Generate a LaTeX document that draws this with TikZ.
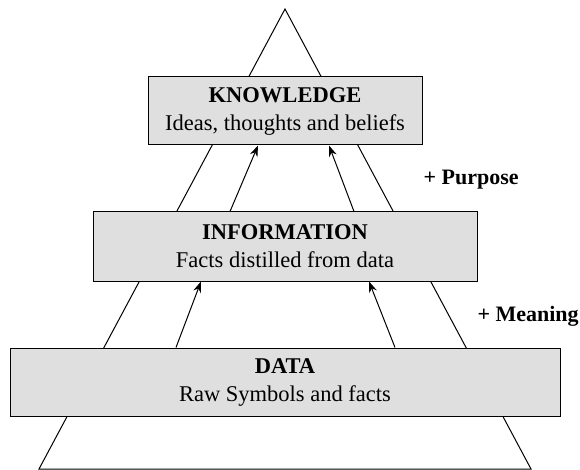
\documentclass[tikz,border=0pt]{standalone}
\usepackage{fontspec}
\setmainfont{Liberation Serif}
\usepackage{tikz}
\usetikzlibrary{arrows.meta, positioning}

\begin{document}
\begin{tikzpicture}[
            x=1pt, y=-1pt,
            level/.style={draw, fill=gray!25, line width=1pt, align=center, inner sep=0pt,
                          font=\fontsize{22.5}{28}\selectfont},
            gain/.style={font=\fontsize{22}{24}\selectfont\bfseries, anchor=west},
            arrow/.style={-{Stealth[length=11pt, width=8pt]}, line width=1pt}
        ]
        \useasboundingbox (0,0) rectangle (580,470);

        % --- pyramid outline ---
        \coordinate (apex) at (285, 9);
        \coordinate (baseL) at (39, 469);
        \coordinate (baseR) at (531, 469);
        \draw[line width=1pt] (baseL) -- (apex) -- (baseR) -- cycle;

        % --- levels ---
        \node[level, minimum width=274pt, minimum height=68pt] (know) at (285, 111)
            {\textbf{KNOWLEDGE}\\Ideas, thoughts and beliefs};
        \node[level, minimum width=384pt, minimum height=69pt] (info) at (285, 246.5)
            {\textbf{INFORMATION}\\Facts distilled from data};
        \node[level, minimum width=550pt, minimum height=68pt] (data) at (285, 382)
            {\textbf{DATA}\\Raw Symbols and facts};

        % --- transitions ---
        \draw[arrow] ([xshift=-109pt]data.north) -- ([xshift=-84pt]info.south);
        \draw[arrow] ([xshift=110pt]data.north) -- ([xshift=84pt]info.south);
        \draw[arrow] ([xshift=-55pt]info.north) -- ([xshift=-27pt]know.south);
        \draw[arrow] ([xshift=69pt]info.north) -- ([xshift=44pt]know.south);

        \node[gain] (purpose) at (420, 180) {+ Purpose};
        \node[gain] (meaning) at (474, 316) {+ Meaning};

        \end{tikzpicture}
\end{document}
